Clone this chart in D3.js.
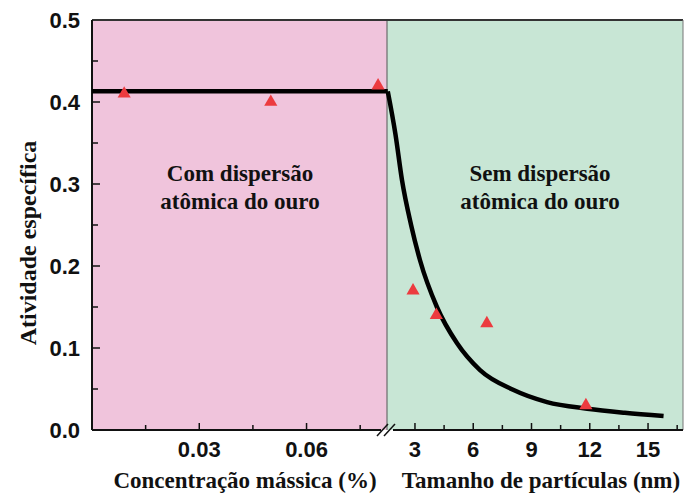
<!DOCTYPE html>
<html>
<head>
<meta charset="utf-8">
<script src="https://cdn.jsdelivr.net/npm/d3@7"></script>
<style>
  html, body { margin: 0; padding: 0; background: #ffffff; }
  svg { display: block; }
</style>
</head>
<body>
<script>
// Specific activity vs. gold loading (left panel) and particle size (right panel)
const massPct      = [0.009, 0.050, 0.080];
const massActivity = [0.41, 0.40, 0.42];

const sizeNm       = [2.9, 4.1, 6.7, 11.8];
const sizeActivity = [0.17, 0.14, 0.13, 0.03];

// Plateau level of the fitted trend and its decay over particle size
const plateauLevel = 0.413;
const decayNm  = [1.6, 2.0, 2.33, 2.8, 3.26, 4.13, 5.16, 6.35, 8.05, 9.8, 11.87, 13.8, 15.8];
const decayVal = [0.413, 0.36, 0.305, 0.25, 0.207, 0.15, 0.106, 0.073, 0.049, 0.034, 0.026, 0.021, 0.017];

const yTicks     = [0, 0.1, 0.2, 0.3, 0.4, 0.5];
const yMinor     = [0.05, 0.15, 0.25, 0.35, 0.45];
const massTicks  = [0.03, 0.06];
const massMinor  = [0.015, 0.045, 0.075];
const sizeTicks  = [3, 6, 9, 12, 15];
const sizeMinor  = [4.5, 7.5, 10.5, 13.5, 16.5];

const leftTitle  = ["Com dispersão", "atômica do ouro"];
const rightTitle = ["Sem dispersão", "atômica do ouro"];

const W = 686, H = 493;
const svg = d3.select("body").append("svg").attr("width", W).attr("height", H);

const y = d3.scaleLinear().domain([0, 0.5]).range([430, 20]);
const xMass = d3.scaleLinear().domain([0, 0.0825]).range([92, 387]);
const xSize = d3.scaleLinear().domain([1.56, 16.8]).range([387, 683]);

const sans  = "'Liberation Sans', Arial, sans-serif";
const serif = "'Liberation Serif', 'Times New Roman', serif";

// Panel backgrounds
svg.append("rect")
  .attr("x", xMass.range()[0]).attr("y", y(0.5))
  .attr("width", xMass.range()[1] - xMass.range()[0])
  .attr("height", y(0) - y(0.5))
  .attr("fill", "#f0c4dc");
svg.append("rect")
  .attr("x", xSize.range()[0]).attr("y", y(0.5))
  .attr("width", xSize.range()[1] - xSize.range()[0])
  .attr("height", y(0) - y(0.5))
  .attr("fill", "#c8e6d5");

// Divider and frame
svg.append("line")
  .attr("x1", 387).attr("x2", 387).attr("y1", y(0.5)).attr("y2", y(0))
  .attr("stroke", "#6b6b6b").attr("stroke-width", 1.2);
svg.append("line")
  .attr("x1", 92).attr("x2", 683).attr("y1", y(0.5)).attr("y2", y(0.5))
  .attr("stroke", "#333").attr("stroke-width", 2);
svg.append("line")
  .attr("x1", 683).attr("x2", 683).attr("y1", y(0.5)).attr("y2", y(0))
  .attr("stroke", "#777").attr("stroke-width", 1);

// Region captions
function caption(lines, cx) {
  const t = svg.append("text")
    .attr("text-anchor", "middle")
    .attr("font-family", serif).attr("font-weight", "bold")
    .attr("font-size", 23).attr("fill", "#111");
  lines.forEach((s, i) => {
    t.append("tspan").attr("x", cx).attr("y", 181 + i * 28).text(s);
  });
}
caption(leftTitle, 240);
caption(rightTitle, 540);

// Y axis
const yAxis = svg.append("g").attr("transform", "translate(92,0)");
yAxis.append("line").attr("x1", 0).attr("x2", 0).attr("y1", y(0.5)).attr("y2", y(0))
  .attr("stroke", "#111").attr("stroke-width", 2);
yAxis.selectAll(".ymaj").data(yTicks.slice(1, -1)).join("line")
  .attr("x1", 0).attr("x2", 8).attr("y1", d => y(d)).attr("y2", d => y(d))
  .attr("stroke", "#111").attr("stroke-width", 1.5);
yAxis.selectAll(".ymin").data(yMinor).join("line")
  .attr("class", "ymin")
  .attr("x1", 0).attr("x2", 6).attr("y1", d => y(d)).attr("y2", d => y(d))
  .attr("stroke", "#111").attr("stroke-width", 1.5);
yAxis.selectAll(".ylab").data(yTicks).join("text")
  .attr("class", "ylab")
  .attr("x", -12).attr("y", d => y(d)).attr("dy", "0.36em")
  .attr("text-anchor", "end")
  .attr("font-family", sans).attr("font-weight", "bold").attr("font-size", 22)
  .attr("fill", "#111")
  .text(d3.format(".1f"));

// Bottom axes with a break between the two panels
const base = y(0);
svg.append("line").attr("x1", 92).attr("x2", 381).attr("y1", base).attr("y2", base)
  .attr("stroke", "#111").attr("stroke-width", 2);
svg.append("line").attr("x1", 393).attr("x2", 683).attr("y1", base).attr("y2", base)
  .attr("stroke", "#111").attr("stroke-width", 2);
[[379, 386], [386, 393]].forEach(([a, b]) => {
  svg.append("line")
    .attr("x1", a - 2).attr("y1", base + 6).attr("x2", b + 2).attr("y2", base - 6)
    .attr("stroke", "#111").attr("stroke-width", 1.5);
});

function xTicks(scale, major, minor, fmt) {
  svg.append("g").selectAll("line.maj").data(major).join("line")
    .attr("x1", d => scale(d)).attr("x2", d => scale(d))
    .attr("y1", base).attr("y2", base - 7)
    .attr("stroke", "#111").attr("stroke-width", 1.5);
  svg.append("g").selectAll("line.min").data(minor).join("line")
    .attr("x1", d => scale(d)).attr("x2", d => scale(d))
    .attr("y1", base).attr("y2", base - 5)
    .attr("stroke", "#111").attr("stroke-width", 1.5);
  svg.append("g").selectAll("text").data(major).join("text")
    .attr("x", d => scale(d)).attr("y", 457)
    .attr("text-anchor", "middle")
    .attr("font-family", sans).attr("font-weight", "bold").attr("font-size", 22)
    .attr("fill", "#111")
    .text(fmt);
}
xTicks(xMass, massTicks, massMinor, d3.format(".2f"));
xTicks(xSize, sizeTicks, sizeMinor, d3.format("d"));

// Axis titles
svg.append("text")
  .attr("x", 245).attr("y", 488).attr("text-anchor", "middle")
  .attr("font-family", serif).attr("font-weight", "bold").attr("font-size", 23)
  .attr("fill", "#111").text("Concentração mássica (%)");
svg.append("text")
  .attr("x", 541).attr("y", 488).attr("text-anchor", "middle")
  .attr("font-family", serif).attr("font-weight", "bold").attr("font-size", 23)
  .attr("fill", "#111").text("Tamanho de partículas (nm)");
svg.append("text")
  .attr("transform", "translate(36,243) rotate(-90)")
  .attr("text-anchor", "middle")
  .attr("font-family", serif).attr("font-weight", "bold").attr("font-size", 24)
  .attr("fill", "#111").text("Atividade específica");

// Trend: flat plateau across the left panel, then decay with particle size
svg.append("path")
  .datum([[xMass(0), y(plateauLevel)], [xSize(decayNm[0]), y(plateauLevel)]])
  .attr("d", d3.line())
  .attr("fill", "none").attr("stroke", "#000").attr("stroke-width", 4.5);
svg.append("path")
  .datum(decayNm.map((v, i) => [xSize(v), y(decayVal[i])]))
  .attr("d", d3.line().curve(d3.curveMonotoneX))
  .attr("fill", "none").attr("stroke", "#000").attr("stroke-width", 4.5)
  .attr("stroke-linejoin", "round");

// Measured points
const tri = d3.symbol().type(d3.symbolTriangle).size(75);
svg.append("g").selectAll("path").data(massPct).join("path")
  .attr("d", tri)
  .attr("transform", (d, i) => `translate(${xMass(d)},${y(massActivity[i])})`)
  .attr("fill", "#ec3b3f");
svg.append("g").selectAll("path").data(sizeNm).join("path")
  .attr("d", tri)
  .attr("transform", (d, i) => `translate(${xSize(d)},${y(sizeActivity[i])})`)
  .attr("fill", "#ec3b3f");
</script>
</body>
</html>
